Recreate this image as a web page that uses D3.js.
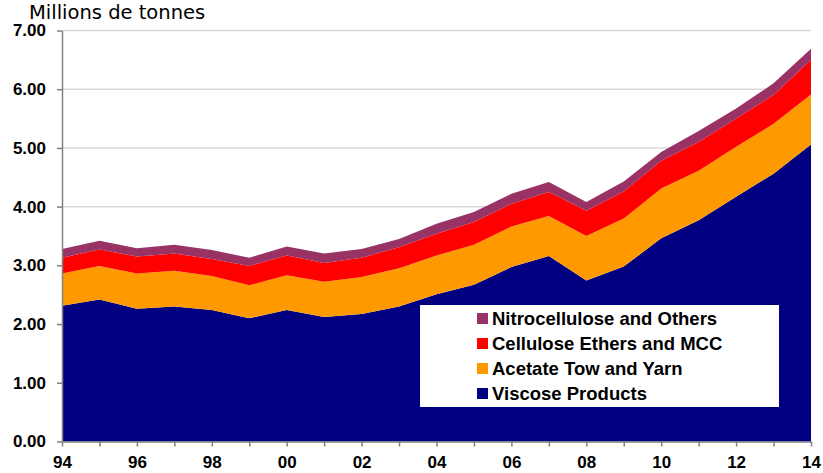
<!DOCTYPE html>
<html>
<head>
<meta charset="utf-8">
<script src="https://cdn.jsdelivr.net/npm/d3@7"></script>
<style>
  html, body { margin: 0; padding: 0; background: #fff; }
  svg { display: block; }
</style>
</head>
<body>
<svg id="chart" width="823" height="473"></svg>
<script>
// ---- Data ----
const years = ["94","95","96","97","98","99","00","01","02","03","04","05","06","07","08","09","10","11","12","13","14"];
const viscose = [2.31,2.42,2.26,2.30,2.24,2.10,2.24,2.12,2.17,2.30,2.51,2.67,2.97,3.16,2.74,2.98,3.46,3.77,4.17,4.56,5.06];
const acetate = [0.55,0.57,0.60,0.61,0.58,0.56,0.59,0.60,0.63,0.65,0.66,0.68,0.69,0.68,0.76,0.82,0.85,0.84,0.85,0.85,0.85];
const ethers  = [0.27,0.28,0.29,0.29,0.29,0.33,0.34,0.32,0.33,0.36,0.37,0.39,0.39,0.41,0.43,0.46,0.47,0.49,0.48,0.49,0.59];
const nitro   = [0.15,0.15,0.14,0.15,0.15,0.14,0.15,0.16,0.15,0.14,0.17,0.17,0.17,0.17,0.15,0.17,0.15,0.19,0.17,0.20,0.19];
const seriesNames = ["Viscose Products","Acetate Tow and Yarn","Cellulose Ethers and MCC","Nitrocellulose and Others"];
const seriesColors = ["#000080","#FF9900","#FF0000","#993366"];
const yTicks = [0,1,2,3,4,5,6,7];
const xTickLabels = ["94","96","98","00","02","04","06","08","10","12","14"];

// ---- Build table ----
const keys = ["v","a","e","n"];
const table = years.map((y,i) => ({year: i, v: viscose[i], a: acetate[i], e: ethers[i], n: nitro[i]}));
const stacked = d3.stack().keys(keys)(table);

const svg = d3.select("#chart");
const m = {left: 62, right: 12, top: 31, bottom: 32};

const x = d3.scaleLinear().domain([0, years.length - 1]).range([m.left, 811]);
const y = d3.scaleLinear().domain([0, 7]).range([441.5, 30.5]);

// gridlines
svg.append("g").selectAll("line").data(yTicks.filter(d => d > 0)).join("line")
  .attr("x1", m.left).attr("x2", 811)
  .attr("y1", d => y(d)).attr("y2", d => y(d))
  .attr("stroke", "#d9d9d9").attr("stroke-width", 1.5);

// areas
const area = d3.area()
  .x(d => x(d.data.year))
  .y0(d => y(d[0]))
  .y1(d => y(d[1]));

svg.append("g").selectAll("path").data(stacked).join("path")
  .attr("d", area)
  .attr("fill", (d,i) => seriesColors[i]);

// y axis
const yAxis = d3.axisLeft(y).tickValues(yTicks).tickFormat(d3.format(".2f")).tickSize(5).tickSizeOuter(0);
const gy = svg.append("g").attr("transform", `translate(${m.left},0)`).call(yAxis);
gy.select(".domain").attr("stroke", "#808080").attr("stroke-width", 1.5);
gy.selectAll(".tick line").attr("stroke", "#808080").attr("stroke-width", 1.5);
gy.selectAll(".tick text")
  .attr("x", -16)
  .attr("fill", "#000")
  .style("font-family", "'Liberation Sans', Arial, sans-serif")
  .style("font-weight", "bold")
  .style("font-size", "17px");

// x axis
const xAxis = d3.axisBottom(x).tickValues(d3.range(years.length))
  .tickFormat(i => xTickLabels.includes(years[i]) && (i % 2 === 0) ? years[i] : "")
  .tickSize(5).tickSizeOuter(0);
const gx = svg.append("g").attr("transform", `translate(0,${y(0)})`).call(xAxis);
gx.select(".domain").attr("stroke", "#808080").attr("stroke-width", 1.5);
gx.selectAll(".tick line").attr("stroke", "#808080").attr("stroke-width", 1.5);
gx.selectAll(".tick text")
  .attr("y", 14)
  .attr("fill", "#000")
  .style("font-family", "'Liberation Sans', Arial, sans-serif")
  .style("font-weight", "bold")
  .style("font-size", "17px");

// title
svg.append("text")
  .attr("x", 29).attr("y", 19)
  .style("font-family", "'DejaVu Sans', Verdana, sans-serif")
  .style("font-size", "19.5px")
  .attr("fill", "#000")
  .text("Millions de tonnes");

// legend
const lg = svg.append("g");
lg.append("rect").attr("x", 420).attr("y", 305).attr("width", 359).attr("height", 102).attr("fill", "#fff");
const legendOrder = [3,2,1,0];
legendOrder.forEach((si, r) => {
  const cy = 318.5 + r * 25;
  lg.append("rect").attr("x", 477).attr("y", cy - 5.5).attr("width", 11).attr("height", 11).attr("fill", seriesColors[si]);
  lg.append("text").attr("x", 492).attr("y", cy + 6.5)
    .style("font-family", "'Liberation Sans', Arial, sans-serif")
    .style("font-weight", "bold")
    .style("font-size", "18.5px")
    .attr("fill", "#000")
    .text(seriesNames[si]);
});
</script>
</body>
</html>
